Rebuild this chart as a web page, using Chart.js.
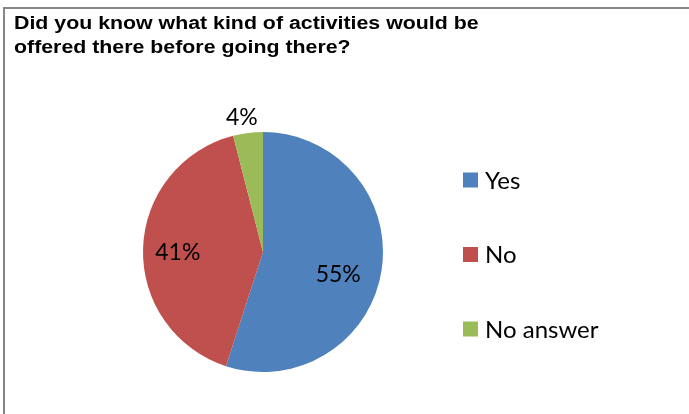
<!DOCTYPE html>
<html>
<head>
<meta charset="utf-8">
<script src="https://cdn.jsdelivr.net/npm/chart.js@4"></script>
<style>
  body { margin: 0; background: #fff; }
  #wrap { position: relative; width: 689px; height: 414px; overflow: hidden; }
  #frame { position: absolute; left: 3px; top: 7px; width: 720px; height: 440px;
           border-top: 2px solid #868686; border-left: 2px solid #868686; }
  canvas { position: absolute; left: 0; top: 0; }
</style>
</head>
<body>
<div id="wrap">
  <div id="frame"></div>
  <canvas id="pieChart" width="689" height="414"></canvas>
</div>
<script>
var titleLines = ['Did you know what kind of activities would be', 'offered there before going there?'];
var answers = ['Yes', 'No', 'No answer'];
var shares = [55, 41, 4];
var sliceColors = ['#4F81BD', '#C0504D', '#9BBB59'];

// where each percentage sits, as a fraction of the radius, plus a small nudge
var labelRadius = [0.66, 0.71, 1.14];
var labelNudge = [[-3, 10], [0, 3], [-4, 1]];

var labelFont = '23px Lato, "Open Sans", sans-serif';

var decorations = {
    id: 'decorations',
    afterDatasetsDraw: function(chart) {
        var ctx = chart.ctx;
        var arcs = chart.getDatasetMeta(0).data;
        ctx.save();

        // percentage labels
        ctx.font = labelFont;
        ctx.fillStyle = '#000';
        ctx.textAlign = 'center';
        ctx.textBaseline = 'middle';
        arcs.forEach(function(arc, i) {
            var mid = (arc.startAngle + arc.endAngle) / 2;
            var r = arc.outerRadius * labelRadius[i];
            var x = arc.x + Math.cos(mid) * r + labelNudge[i][0];
            var y = arc.y + Math.sin(mid) * r + labelNudge[i][1];
            ctx.fillText(shares[i] + '%', x, y);
        });

        // title (the original is a little stretched sideways)
        ctx.font = 'bold 18px "Liberation Sans", Arial, sans-serif';
        ctx.textAlign = 'left';
        ctx.textBaseline = 'middle';
        titleLines.forEach(function(line, i) {
            ctx.save();
            ctx.translate(14, 24 + i * 24);
            ctx.scale(1.185, 1);
            ctx.fillText(line, 0, 0);
            ctx.restore();
        });

        // legend
        ctx.font = '24px Lato, "Open Sans", sans-serif';
        answers.forEach(function(name, i) {
            var y = 180 + i * 74.5;
            ctx.fillStyle = sliceColors[i];
            ctx.fillRect(463, y - 7.5, 15, 15);
            ctx.fillStyle = '#000';
            ctx.fillText(name, 485, y + 1);
        });
        ctx.restore();
    }
};

var ctx = document.getElementById('pieChart').getContext('2d');
var pieChart = new Chart(ctx, {
    type: 'pie',
    data: {
        labels: answers,
        datasets: [{
            data: shares,
            backgroundColor: sliceColors,
            borderWidth: 0,
            hoverOffset: 0
        }]
    },
    options: {
        responsive: false,
        animation: false,
        layout: {
            padding: { left: 143, right: 306, top: 132, bottom: 42 }
        },
        plugins: {
            legend: { display: false },
            title: { display: false },
            tooltip: { enabled: false }
        }
    },
    plugins: [decorations]
});
</script>
</body>
</html>
